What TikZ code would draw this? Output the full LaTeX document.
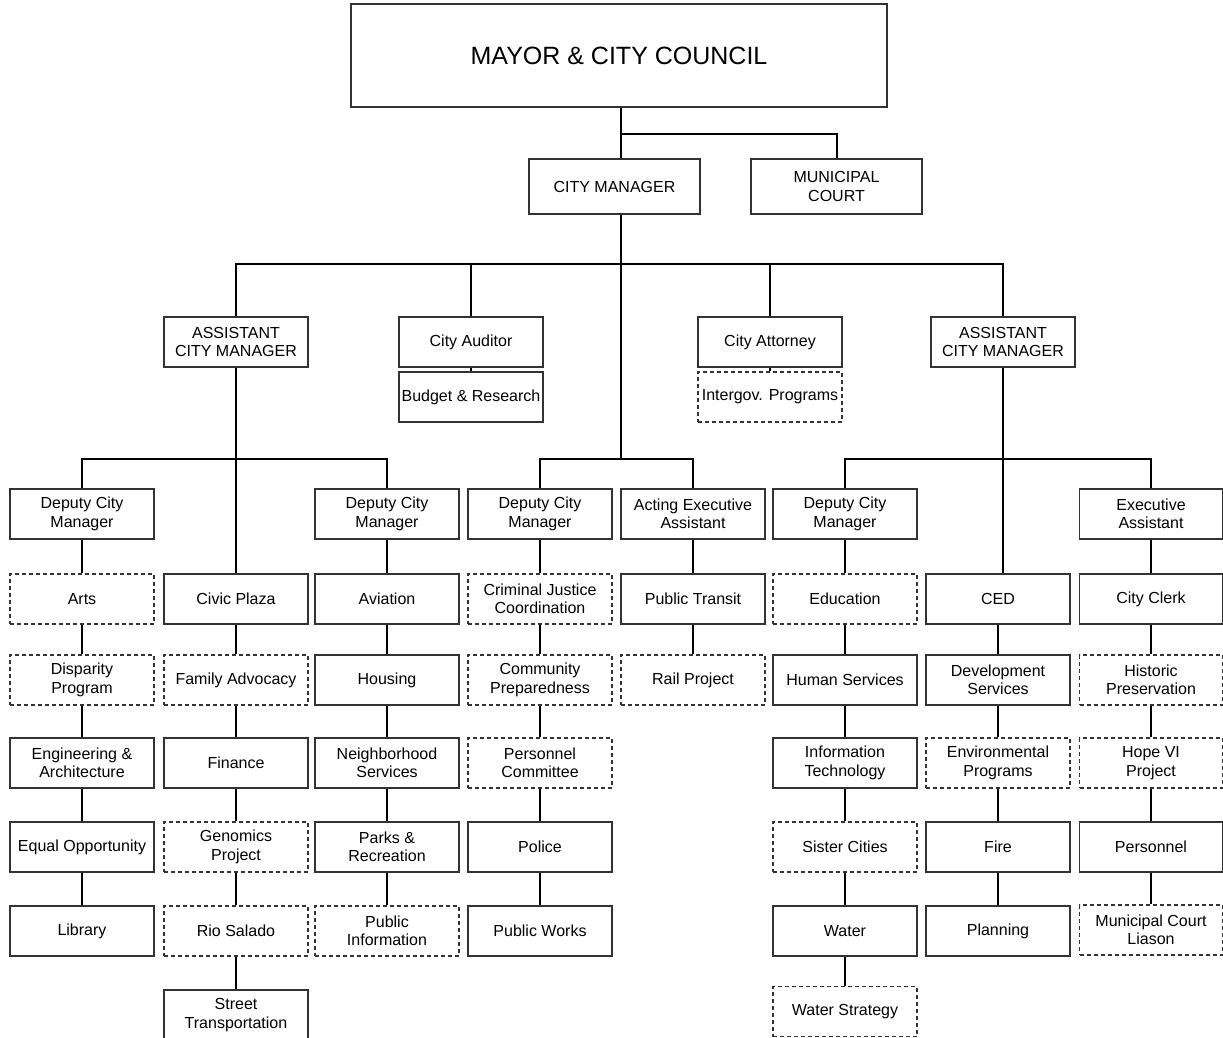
\documentclass[tikz,border=0pt]{standalone}
\usepackage{fontspec}
\setmainfont{Liberation Sans}
\begin{document}
\begin{tikzpicture}[x=1pt,y=-1pt,
  box/.style={draw=black!80, line width=1.2pt, rectangle, minimum width=144pt, minimum height=50pt,
    inner sep=0pt, align=center, font=\fontsize{16}{18.5}\selectfont},
  dbox/.style={box, dash pattern=on 4pt off 3pt},
  conn/.style={line width=2pt, black}]
\clip (0,0) rectangle (1223,1037);
\fill[white] (0,0) rectangle (1223,1037);
% top levels
\node[box, minimum width=536pt, minimum height=103pt, font=\fontsize{25}{30}\selectfont] (mayor) at (619,55.5) {MAYOR \& CITY COUNCIL};
\node[box, minimum width=171pt, minimum height=55pt] (cm) at (614.5,186.5) {CITY MANAGER};
\node[box, minimum width=171pt, minimum height=55pt] (court) at (836.5,186.5) {MUNICIPAL\\COURT};
% level 2
\node[box] (acmL) at (236,342) {ASSISTANT\\CITY MANAGER};
\node[box] (aud) at (471,342) {City Auditor};
\node[box] (bud) at (471,397) {Budget \& Research};
\node[box] (att) at (770,342) {City Attorney};
\node[dbox] (intg) at (770,397) {Intergov. Programs};
\node[box] (acmR) at (1003,342) {ASSISTANT\\CITY MANAGER};
% column 1
\node[box] (dep1) at (82,514) {Deputy City\\Manager};
\node[dbox] (arts) at (82,599) {Arts};
\node[dbox] (disp) at (82,680) {Disparity\\Program};
\node[box] (eng) at (82,763) {Engineering \&\\Architecture};
\node[box] (eqo) at (82,847) {Equal Opportunity};
\node[box] (lib) at (82,931) {Library};
% column 2
\node[box] (civic) at (236,599) {Civic Plaza};
\node[dbox] (fam) at (236,680) {Family Advocacy};
\node[box] (fin) at (236,763) {Finance};
\node[dbox] (gen) at (236,847) {Genomics\\Project};
\node[dbox] (rio) at (236,931) {Rio Salado};
\node[box] (street) at (236,1015) {Street\\Transportation};
% column 3
\node[box] (dep3) at (387,514) {Deputy City\\Manager};
\node[box] (avi) at (387,599) {Aviation};
\node[box] (hou) at (387,680) {Housing};
\node[box] (nbh) at (387,763) {Neighborhood\\Services};
\node[box] (parks) at (387,847) {Parks \&\\Recreation};
\node[dbox] (pubinfo) at (387,931) {Public\\Information};
% column 4
\node[box] (dep4) at (540,514) {Deputy City\\Manager};
\node[dbox] (cjc) at (540,599) {Criminal Justice\\Coordination};
\node[dbox] (comm) at (540,680) {Community\\Preparedness};
\node[dbox] (pcom) at (540,763) {Personnel\\Committee};
\node[box] (pol) at (540,847) {Police};
\node[box] (pw) at (540,931) {Public Works};
% column 5
\node[box] (aea) at (693,514) {Acting Executive\\Assistant};
\node[box] (pt) at (693,599) {Public Transit};
\node[dbox] (rail) at (693,680) {Rail Project};
% column 6
\node[box] (dep6) at (845,514) {Deputy City\\Manager};
\node[dbox] (edu) at (845,599) {Education};
\node[box] (hs) at (845,680) {Human Services};
\node[box] (it) at (845,763) {Information\\Technology};
\node[dbox] (sis) at (845,847) {Sister Cities};
\node[box] (wat) at (845,931) {Water};
\node[dbox] (ws) at (845,1011.5) {Water Strategy};
% column 7
\node[box] (ced) at (998,599) {CED};
\node[box] (dev) at (998,680) {Development\\Services};
\node[dbox] (env) at (998,763) {Environmental\\Programs};
\node[box] (fire) at (998,847) {Fire};
\node[box] (plan) at (998,931) {Planning};
% column 8
\node[box, minimum width=143pt] (ea) at (1151,514) {Executive\\Assistant};
\node[box, minimum width=143pt] (clerk) at (1151,599) {City Clerk};
\node[dbox, minimum width=143pt] (hist) at (1151,680) {Historic\\Preservation};
\node[dbox, minimum width=143pt] (hope) at (1151,763) {Hope VI\\Project};
\node[box, minimum width=143pt] (pers) at (1151,847) {Personnel};
\node[dbox, minimum width=143pt] (mcl) at (1151,930) {Municipal Court\\Liason};
% helper coordinates
\coordinate (t1) at (621,134);
\coordinate (bus2) at (0,264);
\coordinate (bus3) at (0,459);
% connectors top
\draw[conn] (t1 |- mayor.south) -- (t1 |- cm.north);
\draw[conn] (t1) -| (court.north);
\draw[conn] (t1 |- cm.south) -- (t1 |- bus3);
\draw[conn] (acmL.north) |- (t1 |- bus2) -| (acmR.north);
\draw[conn] (aud.north) -- (aud.north |- bus2);
\draw[conn] (att.north) -- (att.north |- bus2);
\draw[conn] (aud.south) -- (bud.north);
\draw[conn] (att.south) -- (intg.north);
% level 3 buses
\draw[conn] (dep1.north) |- (acmL.south |- bus3) -| (dep3.north);
\draw[conn] (acmL.south) -- (civic.north);
\draw[conn] (dep4.north) |- (t1 |- bus3) -| (aea.north);
\draw[conn] (dep6.north) |- (acmR.south |- bus3) -| (ea.north);
\draw[conn] (acmR.south) -- (acmR.south |- ced.north);
% column chains
\foreach \a/\b in {dep1/arts, arts/disp, disp/eng, eng/eqo, eqo/lib,
  civic/fam, fam/fin, fin/gen, gen/rio, rio/street,
  dep3/avi, avi/hou, hou/nbh, nbh/parks, parks/pubinfo,
  dep4/cjc, cjc/comm, comm/pcom, pcom/pol, pol/pw,
  aea/pt, pt/rail,
  dep6/edu, edu/hs, hs/it, it/sis, sis/wat, wat/ws,
  ced/dev, dev/env, env/fire, fire/plan,
  ea/clerk, clerk/hist, hist/hope, hope/pers, pers/mcl}
  \draw[conn] (\a.south) -- (\b.north);
\end{tikzpicture}
\end{document}
